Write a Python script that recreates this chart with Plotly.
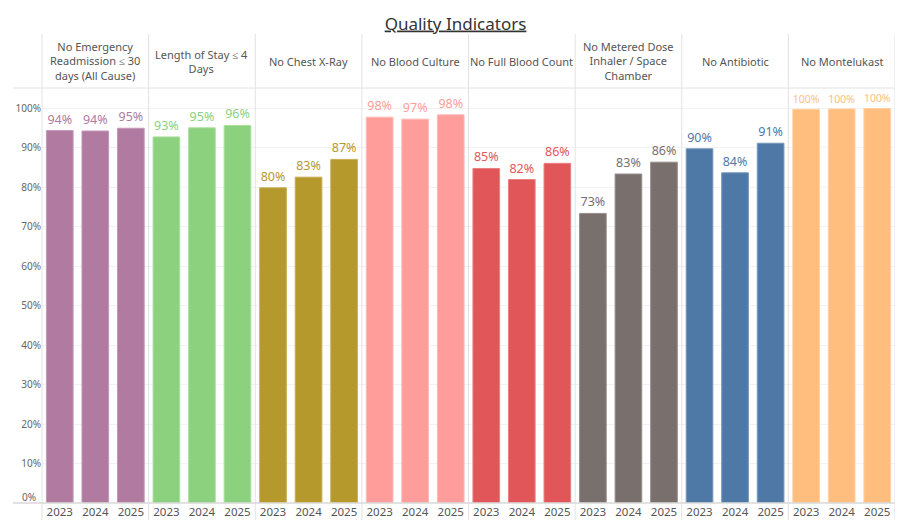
import plotly.graph_objects as go
from plotly.subplots import make_subplots

years = ["2023", "2024", "2025"]

indicators = [
    "No Emergency<br>Readmission ≤ 30<br>days (All Cause)",
    "Length of Stay ≤ 4<br>Days",
    "No Chest X-Ray",
    "No Blood Culture",
    "No Full Blood Count",
    "No Metered Dose<br>Inhaler / Space<br>Chamber",
    "No Antibiotic",
    "No Montelukast",
]

readmission = [94.4, 94.3, 95.0]
length_of_stay = [92.8, 95.1, 95.7]
chest_xray = [79.9, 82.6, 87.1]
blood_culture = [97.8, 97.3, 98.4]
full_blood_count = [84.8, 82.0, 86.1]
metered_dose = [73.4, 83.4, 86.4]
antibiotic = [89.8, 83.7, 91.2]
montelukast = [99.8, 99.9, 100.0]

series = [readmission, length_of_stay, chest_xray, blood_culture,
          full_blood_count, metered_dose, antibiotic, montelukast]

y_ticks = list(range(0, 101, 10))
# the 0% label is drawn separately, lifted above the baseline as in Tableau
y_tick_labels = [""] + [f"{t}%" for t in y_ticks[1:]]

colors = ["#B07AA1", "#8CD17D", "#B6992D", "#FF9D9A",
          "#E15759", "#79706E", "#4E79A7", "#FFBE7D"]
edge = ["#C497B8", "#A9DE9D", "#C7AE55", "#FFB8B5",
        "#EA7E80", "#958E8C", "#7597BD", "#FFD0A3"]

n = len(indicators)
fig = make_subplots(rows=1, cols=n, shared_yaxes=True, horizontal_spacing=0)

for i, vals in enumerate(series):
    fig.add_trace(go.Bar(
        x=years, y=vals,
        marker=dict(color=colors[i], line=dict(color=edge[i], width=1)),
        text=[f"{round(v)}%" for v in vals],
        textposition="outside",
        textfont=dict(color=colors[i], size=12.5),
        cliponaxis=False,
        hoverinfo="skip",
        showlegend=False,
    ), row=1, col=i + 1)
    fig.update_xaxes(range=[-0.5, 2.5], showgrid=False, showline=False,
                     ticks="", tickfont=dict(size=11.5, color="#555555"),
                     row=1, col=i + 1)

fig.update_yaxes(range=[0, 105.2], tickmode="array", tickvals=y_ticks,
                 ticktext=y_tick_labels, showgrid=True, gridcolor="#F2F2F2",
                 gridwidth=1, zeroline=False, showline=False,
                 tickfont=dict(size=10, color="#666666"))

fig.add_annotation(text=f"{y_ticks[0]}%", x=0, y=y_ticks[0], xref="paper", yref="y",
                   xanchor="right", yanchor="middle", xshift=-4, yshift=6,
                   showarrow=False, font=dict(size=10, color="#666666"))

# page body adds an 8px offset, so the figure is shifted back by that much
fig.update_layout(
    width=895, height=520,
    margin=dict(l=28, r=8, t=80, b=25),
    bargap=0.25,
    plot_bgcolor="white", paper_bgcolor="white",
    font=dict(family="Noto Sans", color="#555555"),
    title=dict(text="<u>Quality Indicators</u>", x=0.5, xanchor="center",
               y=0.97, yanchor="middle",
               font=dict(size=17, color="#333333")),
)

# panel dividers, header separator and baseline
for k in range(n + 1):
    xk = k / n
    fig.add_shape(type="line", xref="paper", yref="paper",
                  x0=xk, x1=xk, y0=-0.041, y1=1.13,
                  line=dict(color="#E2E2E2", width=1))
fig.add_shape(type="line", xref="paper", yref="paper",
              x0=-0.034, x1=1, y0=1, y1=1,
              line=dict(color="#E2E2E2", width=1))
fig.add_shape(type="line", xref="paper", yref="paper",
              x0=-0.034, x1=1, y0=0, y1=0,
              line=dict(color="#D9D9D9", width=1.5))

for k, label in enumerate(indicators):
    fig.add_annotation(text=label, x=(k + 0.5) / n, y=1.065,
                       xref="paper", yref="paper", showarrow=False,
                       xanchor="center", yanchor="middle",
                       font=dict(size=11, color="#555555"))

fig.write_html("out.html")
